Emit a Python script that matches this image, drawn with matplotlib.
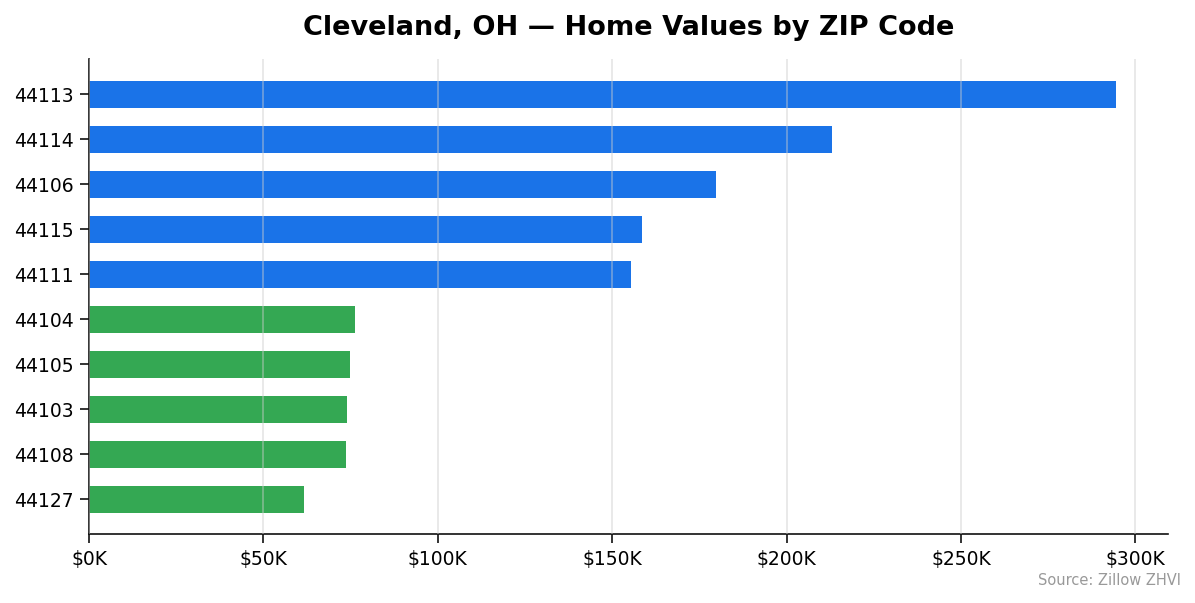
import matplotlib.pyplot as plt
from matplotlib.ticker import FuncFormatter

zips = ["44113", "44114", "44106", "44115", "44111",
        "44104", "44105", "44103", "44108", "44127"]
values = [294.5, 212.9, 179.9, 158.5, 155.3,
          76.2, 74.8, 73.9, 73.6, 61.6]  # thousands of dollars
groups = ["top", "top", "top", "top", "top",
          "bottom", "bottom", "bottom", "bottom", "bottom"]

colors = {"top": "#1a73e8", "bottom": "#34a853"}

fig, ax = plt.subplots(figsize=(11.95, 6.03), dpi=100)
fig.subplots_adjust(left=0.0745, right=0.977, top=0.902, bottom=0.114)

y = list(range(len(zips)))
ax.barh(y, values, height=0.6, color=[colors[g] for g in groups], zorder=2)
ax.set_yticks(y)
ax.set_yticklabels(zips, fontsize=13.5)
ax.invert_yaxis()

ax.set_xlim(0, max(values) * 1.05)
ax.set_xticks([0, 50, 100, 150, 200, 250, 300])
ax.xaxis.set_major_formatter(FuncFormatter(lambda v, p: f"${v:.0f}K"))
ax.tick_params(axis="x", labelsize=13.5)
ax.tick_params(width=1.2, length=6.5, pad=4.5, color="#111111")

ax.grid(axis="x", color="#cccccc", alpha=0.5, linewidth=1.2, zorder=3)
ax.set_axisbelow(False)
ax.spines["top"].set_visible(False)
ax.spines["right"].set_visible(False)
for side in ("left", "bottom"):
    ax.spines[side].set_linewidth(1.2)
    ax.spines[side].set_color("#111111")

ax.set_title("Cleveland, OH \u2014 Home Values by ZIP Code",
             fontsize=19.5, fontweight="bold", pad=17)
fig.text(0.988, 0.025, "Source: Zillow ZHVI", ha="right", va="bottom",
         fontsize=10.5, color="#999999")

plt.savefig("out.png", dpi=100)
